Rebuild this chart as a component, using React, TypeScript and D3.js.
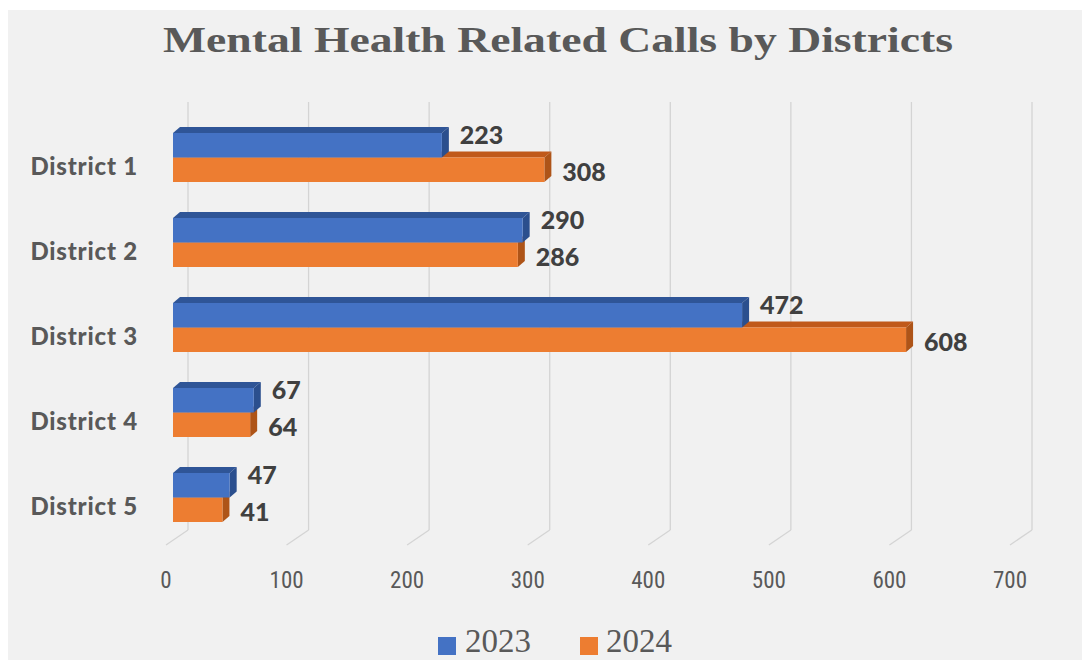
import React from "react";
import * as d3 from "d3";

const districts = ["District 1", "District 2", "District 3", "District 4", "District 5"];
const seriesNames = ["2023", "2024"];
const values2023 = [223, 290, 472, 67, 47];
const values2024 = [308, 286, 608, 64, 41];
const xTicks = [0, 100, 200, 300, 400, 500, 600, 700];
const title = "Mental Health Related Calls by Districts";

const W = 1082;
const H = 660;

const colors = {
  front: ["#4472C4", "#ED7D31"],
  top: ["#2F5597", "#C0591A"],
  side: ["#2B4F8E", "#AE5418"],
};

export default function App() {
  const x = d3.scaleLinear().domain([0, 700]).range([166, 1010]);
  const p = 36 / 85;
  const y = d3.scaleBand<string>().domain(districts).range([115, 540]).paddingInner(p).paddingOuter(p / 2);
  const ys = d3.scaleBand<string>().domain(seriesNames).range([0, y.bandwidth()]);
  const floorDx = 22;
  const floorDy = -15;
  const floorY = 545;
  const gridTop = 102;
  const barOff = 7;
  const dx = 7;
  const dy = -6;
  const series = [values2023, values2024];

  const bars: React.ReactNode[] = [];
  districts.forEach((d, i) => {
    [1, 0].forEach((s) => {
      const v = series[s][i];
      const x0 = x(0) + barOff;
      const x1 = x(v) + barOff;
      const y0 = (y(d) as number) + (ys(seriesNames[s]) as number);
      const y1 = y0 + ys.bandwidth();
      const topPts = `${x0},${y0} ${x0 + dx},${y0 + dy} ${x1 + dx},${y0 + dy} ${x1},${y0}`;
      const sidePts = `${x1},${y0} ${x1 + dx},${y0 + dy} ${x1 + dx},${y1 + dy} ${x1},${y1}`;
      bars.push(
        <g key={`${d}-${s}`}>
          <polygon points={topPts} fill={colors.top[s]} />
          <polygon points={sidePts} fill={colors.side[s]} />
          <rect x={x0} y={y0} width={x1 - x0} height={y1 - y0} fill={colors.front[s]} />
        </g>
      );
    });
  });

  const labels: React.ReactNode[] = [];
  districts.forEach((d, i) => {
    [0, 1].forEach((s) => {
      const v = series[s][i];
      const y0 = (y(d) as number) + (ys(seriesNames[s]) as number);
      const cy = y0 + ys.bandwidth() / 2 + (s === 0 ? -11 : 1);
      labels.push(
        <text
          key={`lab-${d}-${s}`}
          x={x(v) + barOff + 18}
          y={cy}
          dominantBaseline="central"
          fontFamily="Lato, 'Open Sans', sans-serif"
          fontWeight={900}
          fontSize={25}
          fill="#404040"
        >
          {v}
        </text>
      );
    });
  });

  return (
    <svg width={W} height={H} style={{ position: "absolute", left: 0, top: 0 }}>
      <rect x={0} y={0} width={W} height={H} fill="#ffffff" />
      <rect x={8} y={10} width={W - 8} height={H - 10} fill="#F1F1F1" />
      <text
        x={558}
        y={52}
        textAnchor="middle"
        fontFamily="'Liberation Serif', 'DejaVu Serif', serif"
        fontWeight="bold"
        fontSize={36}
        fill="#595959"
        textLength={790}
        lengthAdjust="spacingAndGlyphs"
      >
        {title}
      </text>
      {xTicks.map((t) => (
        <g key={`g-${t}`}>
          <line x1={x(t) + floorDx} x2={x(t) + floorDx} y1={gridTop} y2={floorY + floorDy} stroke="#D4D4D4" strokeWidth={1.3} />
          <line x1={x(t)} y1={floorY} x2={x(t) + floorDx} y2={floorY + floorDy} stroke="#D4D4D4" strokeWidth={1.3} />
          <text
            x={x(t)}
            y={580}
            textAnchor="middle"
            dominantBaseline="central"
            fontFamily="'Liberation Sans Narrow', 'Roboto Condensed', Roboto, sans-serif"
            fontSize={23}
            fill="#595959"
          >
            {t}
          </text>
        </g>
      ))}
      {bars}
      {labels}
      {districts.map((d) => (
        <text
          key={`cat-${d}`}
          x={138}
          y={(y(d) as number) + y.bandwidth() / 2 + 8}
          textAnchor="end"
          dominantBaseline="central"
          fontFamily="Lato, 'Open Sans', sans-serif"
          fontWeight={900}
          fontSize={24}
          letterSpacing={0.8}
          fill="#595959"
        >
          {d}
        </text>
      ))}
      <g>
        <rect x={438} y={637} width={18} height={18} fill={colors.front[0]} />
        <text x={465} y={652} fontFamily="'Liberation Serif', serif" fontSize={33} fill="#595959">
          {seriesNames[0]}
        </text>
        <rect x={580} y={637} width={18} height={18} fill={colors.front[1]} />
        <text x={606} y={652} fontFamily="'Liberation Serif', serif" fontSize={33} fill="#595959">
          {seriesNames[1]}
        </text>
      </g>
    </svg>
  );
}
